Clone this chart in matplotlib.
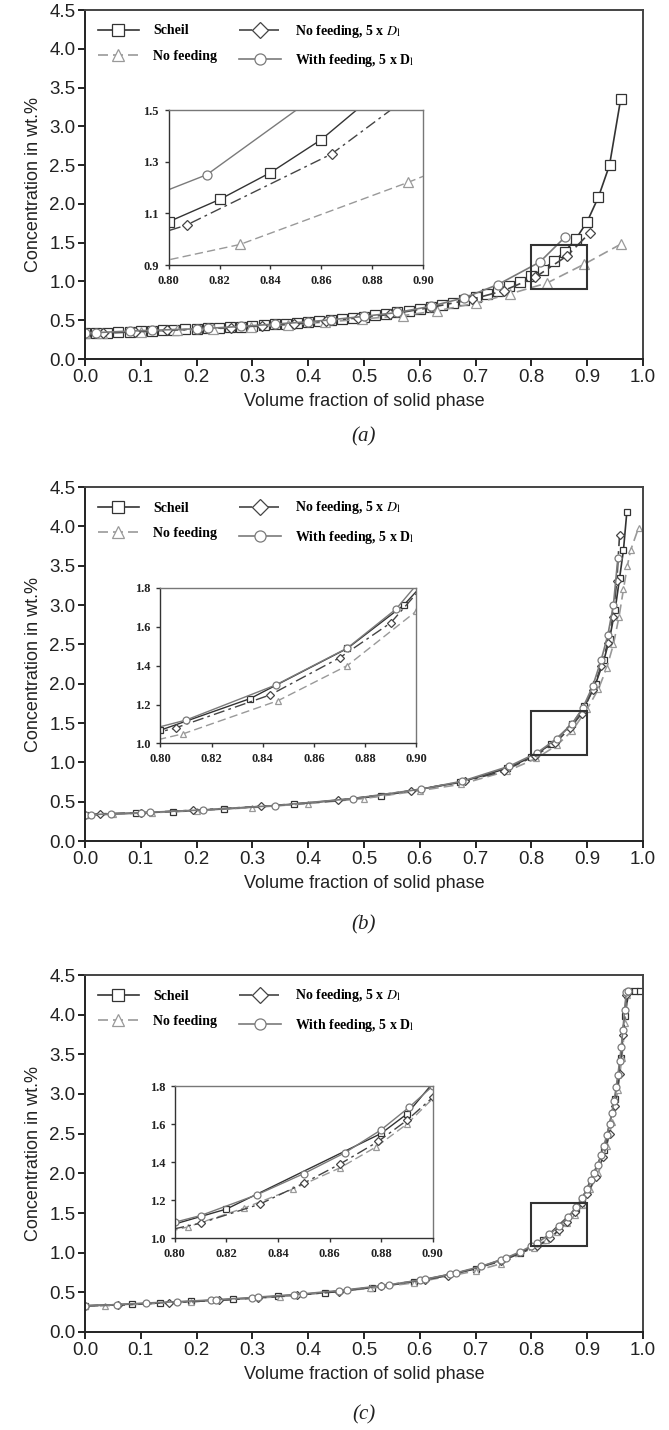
import matplotlib
matplotlib.use('Agg')
import matplotlib.pyplot as plt
from matplotlib.patches import Rectangle

plt.rcParams['font.family'] = 'Liberation Sans'
plt.rcParams['mathtext.fontset'] = 'stix'

# ---------------- panel (a) ----------------
a_scheil_x = [0.00, 0.02, 0.04, 0.06, 0.08, 0.10, 0.12, 0.14, 0.16, 0.18, 0.20, 0.22, 0.24, 0.26, 0.28,
              0.30, 0.32, 0.34, 0.36, 0.38, 0.40, 0.42, 0.44, 0.46, 0.48, 0.50, 0.52, 0.54, 0.56, 0.58,
              0.60, 0.62, 0.64, 0.66, 0.68, 0.70, 0.72, 0.74, 0.76, 0.78, 0.80, 0.82, 0.84, 0.86, 0.88,
              0.90, 0.92, 0.94, 0.96]
a_scheil_y = [0.330, 0.335, 0.340, 0.345, 0.351, 0.356, 0.362, 0.368, 0.375, 0.381, 0.388, 0.396, 0.403,
              0.411, 0.419, 0.428, 0.437, 0.447, 0.457, 0.468, 0.479, 0.491, 0.504, 0.517, 0.532, 0.547,
              0.564, 0.582, 0.601, 0.622, 0.644, 0.669, 0.696, 0.725, 0.758, 0.795, 0.836, 0.882, 0.935,
              0.997, 1.068, 1.154, 1.258, 1.386, 1.551, 1.772, 2.086, 2.50, 3.35]
a_nofeed_x = [0.00, 0.03, 0.10, 0.165, 0.23, 0.297, 0.363, 0.43, 0.497, 0.57, 0.63, 0.70, 0.762, 0.828, 0.894, 0.96]
a_nofeed_y = [0.33, 0.335, 0.35, 0.37, 0.39, 0.415, 0.44, 0.475, 0.515, 0.56, 0.62, 0.72, 0.84, 0.98, 1.22, 1.48]
a_nofeed5_x = [0.00, 0.033, 0.09, 0.147, 0.204, 0.261, 0.318, 0.375, 0.432, 0.489, 0.546, 0.62, 0.693,
               0.75, 0.807, 0.864, 0.905]
a_nofeed5_y = [0.33, 0.335, 0.35, 0.37, 0.385, 0.405, 0.43, 0.455, 0.49, 0.53, 0.575, 0.665, 0.77,
               0.88, 1.055, 1.33, 1.63]
a_feed_x = [0.00, 0.02, 0.08, 0.12, 0.20, 0.22, 0.28, 0.34, 0.40, 0.44, 0.50, 0.56, 0.62, 0.68, 0.74, 0.815, 0.86]
a_feed_y = [0.34, 0.34, 0.36, 0.37, 0.39, 0.395, 0.42, 0.45, 0.48, 0.505, 0.55, 0.60, 0.68, 0.79, 0.96, 1.25, 1.57]

# ---------------- panel (b) ----------------
b_scheil_x = [0.00, 0.092, 0.157, 0.249, 0.374, 0.53, 0.672, 0.756, 0.80, 0.835, 0.873, 0.895, 0.915,
              0.93, 0.94, 0.95, 0.958, 0.965, 0.971]
b_scheil_y = [0.33, 0.354, 0.374, 0.407, 0.465, 0.573, 0.745, 0.924, 1.068, 1.23, 1.488, 1.71, 1.995,
              2.30, 2.57, 2.94, 3.34, 3.70, 4.18]
b_nofeed_x = [0.00, 0.05, 0.12, 0.20, 0.30, 0.40, 0.50, 0.60, 0.673, 0.757, 0.809, 0.846, 0.873, 0.90,
              0.92, 0.935, 0.947, 0.957, 0.965, 0.972, 0.978, 0.992]
b_nofeed_y = [0.33, 0.34, 0.36, 0.385, 0.425, 0.475, 0.54, 0.64, 0.72, 0.89, 1.05, 1.22, 1.40, 1.68,
              1.93, 2.20, 2.50, 2.85, 3.20, 3.50, 3.70, 3.98]
b_nofeed5_x = [0.00, 0.026, 0.10, 0.193, 0.316, 0.454, 0.585, 0.681, 0.75, 0.806, 0.843, 0.87, 0.89,
               0.91, 0.925, 0.937, 0.946, 0.953, 0.958]
b_nofeed5_y = [0.33, 0.345, 0.36, 0.39, 0.44, 0.515, 0.64, 0.76, 0.89, 1.08, 1.25, 1.44, 1.62,
               1.92, 2.22, 2.52, 2.85, 3.30, 3.89]
b_feed_x = [0.00, 0.011, 0.046, 0.10, 0.116, 0.211, 0.34, 0.481, 0.603, 0.676, 0.76, 0.81, 0.845,
            0.873, 0.892, 0.91, 0.925, 0.937, 0.947, 0.955]
b_feed_y = [0.33, 0.335, 0.345, 0.36, 0.365, 0.395, 0.45, 0.54, 0.66, 0.76, 0.95, 1.12, 1.30,
            1.49, 1.69, 1.97, 2.30, 2.62, 3.00, 3.60]

# ---------------- panel (c) ----------------
c_scheil_x = [0.00, 0.085, 0.135, 0.19, 0.265, 0.345, 0.43, 0.515, 0.59, 0.70, 0.78, 0.82, 0.88, 0.89,
              0.93, 0.95, 0.96, 0.967, 0.975, 0.985, 0.995]
c_scheil_y = [0.33, 0.352, 0.367, 0.385, 0.413, 0.449, 0.497, 0.56, 0.633, 0.795, 0.997, 1.154, 1.551,
              1.653, 2.30, 2.94, 3.46, 3.98, 4.30, 4.30, 4.30]
c_nofeed_x = [0.00, 0.035, 0.19, 0.35, 0.51, 0.59, 0.70, 0.745, 0.805, 0.827, 0.846, 0.864, 0.878,
              0.89, 0.905, 0.92, 0.935, 0.945, 0.955, 0.962, 0.968, 0.972]
c_nofeed_y = [0.33, 0.33, 0.38, 0.445, 0.55, 0.62, 0.77, 0.86, 1.06, 1.16, 1.26, 1.37, 1.48,
              1.60, 1.80, 2.00, 2.35, 2.65, 3.05, 3.45, 3.90, 4.25]
c_nofeed5_x = [0.00, 0.06, 0.15, 0.24, 0.31, 0.38, 0.455, 0.53, 0.61, 0.65, 0.745, 0.81, 0.833, 0.85,
               0.864, 0.879, 0.89, 0.90, 0.915, 0.928, 0.94, 0.95, 0.958, 0.965, 0.97]
c_nofeed5_y = [0.33, 0.34, 0.37, 0.40, 0.43, 0.465, 0.51, 0.58, 0.66, 0.71, 0.89, 1.08, 1.18, 1.29,
               1.39, 1.51, 1.62, 1.74, 1.95, 2.20, 2.50, 2.85, 3.25, 3.75, 4.25]
c_feed_x = [0.00, 0.057, 0.11, 0.165, 0.225, 0.235, 0.30, 0.31, 0.375, 0.39, 0.455, 0.47, 0.53, 0.545,
            0.60, 0.61, 0.655, 0.665, 0.71, 0.745, 0.755, 0.78, 0.80, 0.81, 0.832, 0.85, 0.866, 0.88,
            0.891, 0.90, 0.907, 0.913, 0.919, 0.925, 0.93, 0.935, 0.94, 0.944, 0.948, 0.952, 0.955,
            0.958, 0.961, 0.964, 0.967, 0.97, 0.973]
c_feed_y = [0.33, 0.345, 0.365, 0.382, 0.403, 0.407, 0.434, 0.44, 0.472, 0.48, 0.522, 0.533, 0.582, 0.595,
            0.655, 0.667, 0.729, 0.745, 0.828, 0.909, 0.935, 1.012, 1.085, 1.12, 1.23, 1.34, 1.45, 1.57,
            1.69, 1.80, 1.91, 2.00, 2.11, 2.23, 2.35, 2.48, 2.62, 2.76, 2.91, 3.09, 3.24,
            3.41, 3.59, 3.81, 4.06, 4.28, 4.30]

panels = [
    dict(scheil=(a_scheil_x, a_scheil_y), nofeed=(a_nofeed_x, a_nofeed_y),
         nofeed5=(a_nofeed5_x, a_nofeed5_y), feed=(a_feed_x, a_feed_y),
         inset=[0.15, 1.21, 0.456, 2.0], iylim=(0.9, 1.5), iyticks=[0.9, 1.1, 1.3, 1.5],
         box=(0.9, 1.47), label='(a)', ms=6.5),
    dict(scheil=(b_scheil_x, b_scheil_y), nofeed=(b_nofeed_x, b_nofeed_y),
         nofeed5=(b_nofeed5_x, b_nofeed5_y), feed=(b_feed_x, b_feed_y),
         inset=[0.135, 1.24, 0.459, 1.98], iylim=(1.0, 1.8), iyticks=[1.0, 1.2, 1.4, 1.6, 1.8],
         box=(1.09, 1.65), label='(b)', ms=5),
    dict(scheil=(c_scheil_x, c_scheil_y), nofeed=(c_nofeed_x, c_nofeed_y),
         nofeed5=(c_nofeed5_x, c_nofeed5_y), feed=(c_feed_x, c_feed_y),
         inset=[0.161, 1.18, 0.462, 1.92], iylim=(1.0, 1.8), iyticks=[1.0, 1.2, 1.4, 1.6, 1.8],
         box=(1.08, 1.62), label='(c)', ms=5),
]

styles = {
    'scheil': dict(color='#333333', ls='-', marker='s', label='Scheil'),
    'nofeed': dict(color='#999999', ls=(0, (6, 3)), marker='^', label='No feeding'),
    'nofeed5': dict(color='#444444', ls=(0, (8, 3, 2, 3)), marker='D',
                    label=r'No feeding, 5 x $\mathit{D}_\mathrm{l}$'),
    'feed': dict(color='#7a7a7a', ls='-', marker='o', label=r'With feeding, 5 x D$_\mathrm{l}$'),
}
order = ['scheil', 'nofeed', 'nofeed5', 'feed']

W, H = 669, 1430
fig = plt.figure(figsize=(W / 100, H / 100), dpi=100)

# pixel positions of each main axes: top, bottom, caption centre
rows = [(10, 359, 437), (487, 841, 925), (975, 1332, 1415)]
left, right = 85, 643

for p, (top, bot, cap) in zip(panels, rows):
    ax = fig.add_axes([left / W, 1 - bot / H, (right - left) / W, (bot - top) / H])
    for key in order:
        st = styles[key]
        x, y = p[key]
        ms = p['ms'] * (0.8 if st['marker'] == 'D' else 1.0)
        ax.plot(x, y, color=st['color'], ls=st['ls'], lw=1.2, marker=st['marker'], ms=ms,
                mfc='white', mec=st['color'], mew=0.9, label=st['label'])
    ax.set_xlim(0, 1.0)
    ax.set_ylim(0, 4.5)
    ax.set_xticks([i / 10 for i in range(11)])
    ax.set_yticks([i / 2 for i in range(10)])
    ax.set_xticklabels(['%.1f' % (i / 10) for i in range(11)])
    ax.set_yticklabels(['%.1f' % (i / 2) for i in range(10)])
    ax.tick_params(direction='out', length=5, width=1.4, labelsize=13.5, color='#222222',
                   labelcolor='#222222', pad=2)
    for s in ax.spines.values():
        s.set_color('#444444')
        s.set_linewidth(1.4)
    ax.spines['left'].set_color('#222222')
    ax.spines['bottom'].set_color('#222222')
    ax.set_xlabel('Volume fraction of solid phase', fontsize=13, color='#222222', labelpad=5)
    ax.set_ylabel('Concentration in wt.%', fontsize=13, color='#222222', labelpad=5)

    leg = ax.legend(loc='upper left', ncol=2, frameon=False, handlelength=3.0,
                    columnspacing=1.6, handletextpad=1.0, labelspacing=0.9,
                    bbox_to_anchor=(0.0, 1.0),
                    prop={'family': 'Liberation Serif', 'weight': 'bold', 'size': 10})
    for h in leg.legend_handles:
        h.set_markersize(8)

    y0, y1 = p['box']
    ax.add_patch(Rectangle((0.8, y0), 0.1, y1 - y0, fill=False, ec='#333333', lw=1.5, zorder=5))

    ins = ax.inset_axes(p['inset'], transform=ax.transData)
    for key in order:
        st = styles[key]
        x, y = p[key]
        ms = p['ms'] * (0.8 if st['marker'] == 'D' else 1.0)
        ins.plot(x, y, color=st['color'], ls=st['ls'], lw=1.0, marker=st['marker'], ms=ms,
                 mfc='white', mec=st['color'], mew=0.9)
    ins.set_xlim(0.80, 0.90)
    ins.set_ylim(*p['iylim'])
    ins.set_xticks([0.80, 0.82, 0.84, 0.86, 0.88, 0.90])
    ins.set_xticklabels(['0.80', '0.82', '0.84', '0.86', '0.88', '0.90'])
    ins.set_yticks(p['iyticks'])
    ins.set_yticklabels(['%.1f' % v for v in p['iyticks']])
    ins.tick_params(direction='out', length=3, width=1.0, labelsize=9, color='#333333',
                    labelcolor='#222222', pad=4)
    for lab in ins.get_xticklabels() + ins.get_yticklabels():
        lab.set_family('Liberation Serif')
        lab.set_weight('bold')
    for s in ins.spines.values():
        s.set_color('#777777')
        s.set_linewidth(1.0)
    ins.spines['left'].set_color('#333333')
    ins.spines['bottom'].set_color('#333333')

    fig.text((left + right) / 2 / W, 1 - cap / H, p['label'], ha='center', va='center',
             fontsize=15, style='italic', family='Liberation Serif', color='#222222')

fig.savefig('out.png', dpi=100)
